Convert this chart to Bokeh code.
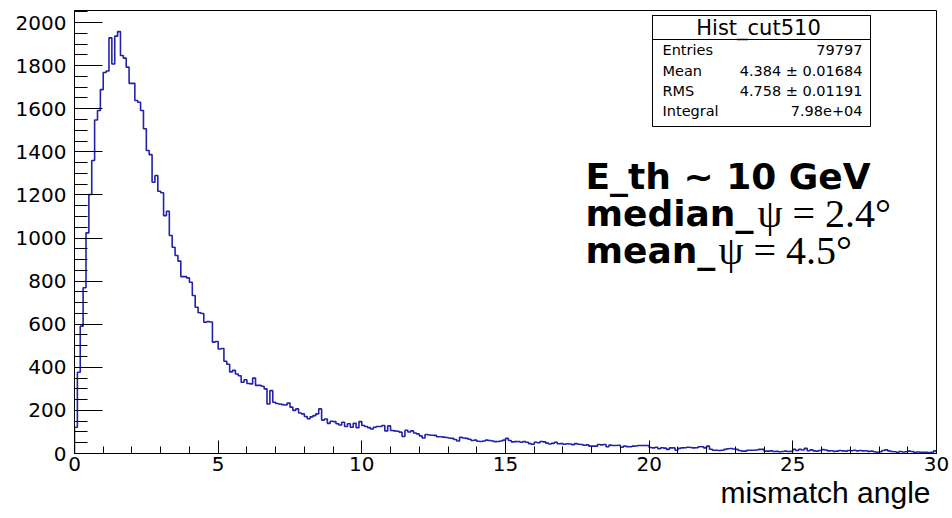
import numpy as np
from bokeh.plotting import figure
from bokeh.models import Range1d, SingleIntervalTicker, Label, BoxAnnotation, Title
from bokeh.embed import file_html
from bokeh.resources import INLINE

# ---------------- data ----------------
X_LO, X_HI = 0.0, 30.0
BIN_WIDTH = 0.1

counts_0_to_5 = [
    122, 377, 591, 769, 1024, 1202, 1360, 1548, 1592, 1689,
    1768, 1775, 1929, 1808, 1937, 1958, 1847, 1835, 1793, 1718,
    1718, 1638, 1630, 1592, 1507, 1406, 1387, 1259, 1290, 1217,
    1210, 1104, 1124, 1012, 957, 919, 893, 821, 821, 815,
    795, 733, 679, 653, 650, 609, 612, 610, 517, 520,
]
counts_5_to_10 = [
    485, 487, 428, 414, 379, 386, 369, 361, 331, 342,
    325, 323, 350, 316, 316, 312, 300, 230, 292, 238,
    232, 230, 227, 225, 234, 215, 200, 207, 188, 184,
    172, 161, 170, 176, 184, 207, 155, 160, 140, 150,
    148, 138, 132, 145, 125, 138, 122, 140, 120, 148,
]
counts_10_to_15 = [
    130, 125, 120, 114, 122, 125, 125, 130, 105, 128,
    107, 105, 103, 99, 79, 108, 100, 105, 95, 91,
    82, 72, 88, 86, 85, 84, 78, 78, 76, 74,
    72, 70, 65, 58, 75, 72, 70, 66, 60, 62,
    57, 56, 58, 62, 60, 58, 55, 56, 58, 62,
]
counts_15_to_20 = [
    70, 60, 54, 55, 56, 52, 55, 52, 46, 43,
    52, 50, 56, 54, 48, 44, 47, 52, 45, 46,
    43, 45, 44, 41, 46, 43, 42, 38, 40, 34,
    34, 34, 42, 40, 42, 31, 39, 37, 37, 38,
    29, 34, 32, 31, 34, 35, 37, 37, 37, 37,
]
counts_20_to_25 = [
    28, 26, 29, 22, 27, 25, 19, 26, 26, 15,
    24, 26, 27, 29, 28, 26, 27, 31, 31, 26,
    34, 20, 15, 15, 14, 15, 19, 22, 23, 21,
    19, 14, 11, 11, 15, 15, 15, 16, 19, 19,
    11, 11, 12, 9, 10, 8, 9, 11, 9, 10,
]
counts_25_to_30 = [
    19, 14, 19, 16, 24, 13, 17, 12, 11, 14,
    18, 16, 12, 13, 10, 11, 14, 12, 11, 14,
    13, 15, 12, 14, 12, 13, 10, 11, 8, 6,
    8, 14, 17, 12, 9, 8, 6, 9, 7, 8,
    11, 9, 6, 7, 6, 5, 6, 4, 6, 12,
]
counts = (counts_0_to_5 + counts_5_to_10 + counts_10_to_15
          + counts_15_to_20 + counts_20_to_25 + counts_25_to_30)

x_tick_step = 5
y_tick_step = 200
y_max = 2056

stats_title = "Hist_cut510"
stats_names = ["Entries", "Mean", "RMS", "Integral"]
stats_values = ["79797", "4.384 \u00b1 0.01684", "4.758 \u00b1 0.01191", "7.98e+04"]

x_label = "mismatch angle"
note_bold = ["E_th ~ 10 GeV", "median_", "mean_"]
note_serif = ["", "\u03c8 = 2.4\u00b0", "\u03c8 = 4.5\u00b0"]

# ---------------- layout ----------------
W, H = 952, 518
L, R, T, B = 74, 16, 10, 65

p = figure(width=W, height=H,
           x_range=Range1d(X_LO, X_HI), y_range=Range1d(0, y_max),
           output_backend="svg", toolbar_location=None,
           min_border_left=L, min_border_right=R,
           min_border_top=T, min_border_bottom=B)
p.background_fill_color = "white"
p.border_fill_color = "white"
p.outline_line_color = "black"
p.outline_line_width = 1
p.xgrid.visible = False
p.ygrid.visible = False

# histogram outline
edges = X_LO + BIN_WIDTH * np.arange(len(counts) + 1)
xs = np.repeat(edges, 2)
ys = np.concatenate([[0], np.repeat(np.array(counts, dtype=float), 2), [0]])
p.line(xs, ys, line_color="#2222a8", line_width=1.6)

# axes
p.xaxis.ticker = SingleIntervalTicker(interval=x_tick_step, num_minor_ticks=5)
p.yaxis.ticker = SingleIntervalTicker(interval=y_tick_step, num_minor_ticks=4)
for ax in (p.xaxis[0], p.yaxis[0]):
    ax.axis_line_color = "black"
    ax.major_tick_line_color = "black"
    ax.minor_tick_line_color = "black"
    ax.major_label_text_font = "DejaVu Sans"
    ax.major_label_text_font_size = "20px"
    ax.major_label_text_color = "black"
p.yaxis.major_tick_in = 28
p.yaxis.major_tick_out = 0
p.yaxis.minor_tick_in = 13
p.yaxis.minor_tick_out = 0
p.yaxis.major_label_standoff = 8
p.xaxis.major_tick_in = 13
p.xaxis.major_tick_out = 0
p.xaxis.minor_tick_in = 7
p.xaxis.minor_tick_out = 0
p.xaxis.major_label_standoff = 3

# x-axis title, right aligned below the axis
p.add_layout(Title(text=x_label, align="right", text_font="Liberation Sans",
                   text_font_size="30px", text_font_style="normal",
                   text_color="black", standoff=0, offset=6), "below")


def dx(px):
    return X_LO + (px - L) * (X_HI - X_LO) / (W - L - R)


def dy(py):
    return (H - B - py) * y_max / (H - T - B)


# stats box
p.add_layout(BoxAnnotation(left=dx(652), right=dx(870), top=dy(15), bottom=dy(126),
                           fill_color="white", fill_alpha=1.0,
                           line_color="black", line_width=1, line_alpha=1.0))
p.add_layout(BoxAnnotation(left=dx(652), right=dx(870), top=dy(15), bottom=dy(39),
                           fill_alpha=0.0, line_color="black", line_width=1, line_alpha=1.0))
p.add_layout(Label(x=dx(758), y=dy(27), text=stats_title, text_align="center",
                   text_baseline="middle", text_font="DejaVu Sans",
                   text_font_size="21px", text_color="black"))
row_y = [49, 70, 90, 110]
for name, val, ry in zip(stats_names, stats_values, row_y):
    p.add_layout(Label(x=dx(662), y=dy(ry), text=name, text_align="left",
                       text_baseline="middle", text_font="DejaVu Sans",
                       text_font_size="14.5px", text_color="black"))
    p.add_layout(Label(x=dx(862), y=dy(ry), text=val, text_align="right",
                       text_baseline="middle", text_font="DejaVu Sans",
                       text_font_size="14.5px", text_color="black"))

# big annotation text
base_y = [176, 213, 250]
serif_x = [0, 757, 718]
for bold_txt, serif_txt, by, sx in zip(note_bold, note_serif, base_y, serif_x):
    p.add_layout(Label(x=dx(585), y=dy(by), text=bold_txt, text_align="left",
                       text_baseline="alphabetic", text_font="DejaVu Sans",
                       text_font_style="bold", text_font_size="36px",
                       text_color="black"))
    if serif_txt:
        p.add_layout(Label(x=dx(sx), y=dy(by), text=serif_txt, text_align="left",
                           text_baseline="alphabetic", text_font="Liberation Serif",
                           text_font_size="40px", text_color="black"))

open("out.html", "w").write(file_html(p, INLINE))
